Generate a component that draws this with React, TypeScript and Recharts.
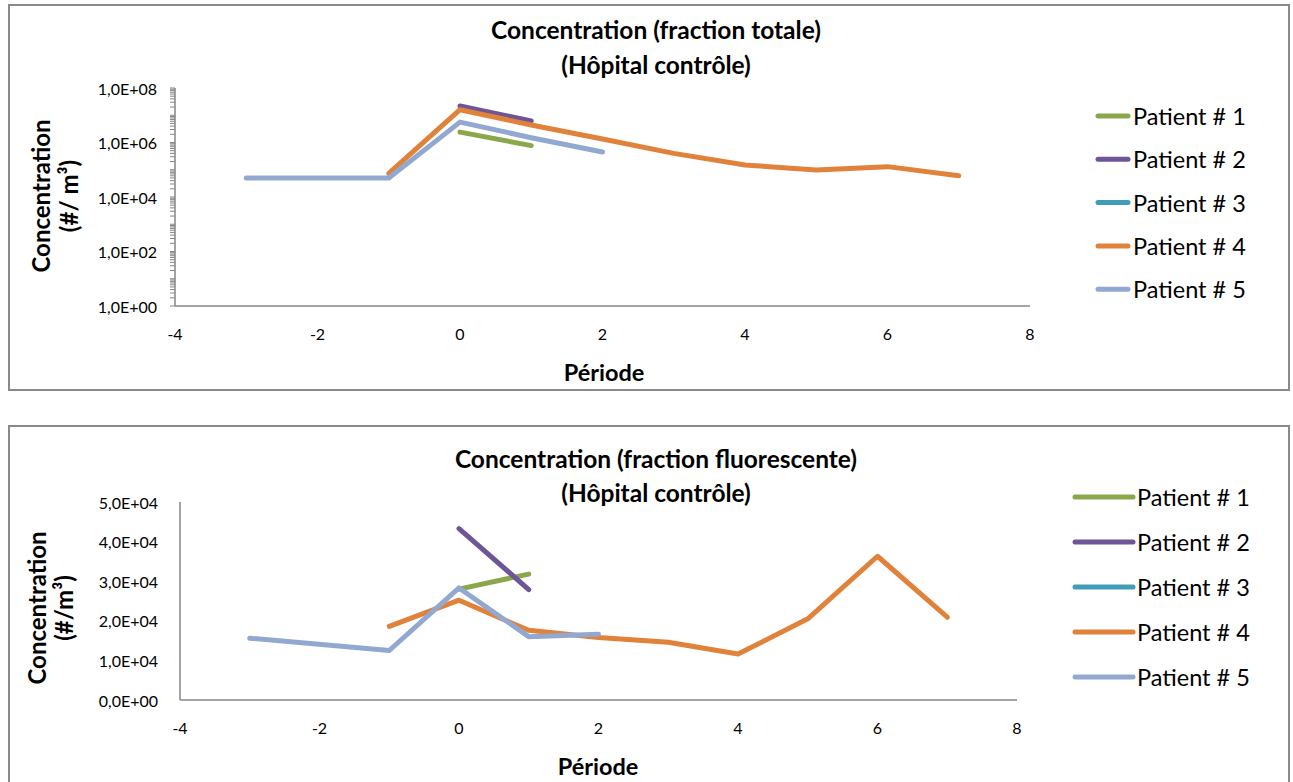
import React from 'react';
import { LineChart, Line, XAxis, YAxis, Legend } from 'recharts';

const FONT = 'Lato, "Open Sans", sans-serif';
const AXIS_GREY = '#868686';

const patientNames = ['Patient # 1', 'Patient # 2', 'Patient # 3', 'Patient # 4', 'Patient # 5'];
const patientColors = ['#8AA84B', '#6E5598', '#3F9DB6', '#E0823A', '#91A9D0'];

const xTicks = [-4, -2, 0, 2, 4, 6, 8];
const xTickLabels = ['-4', '-2', '0', '2', '4', '6', '8'];

// Top chart: total fraction (log scale)
const totalYTicks = [1, 1e2, 1e4, 1e6, 1e8];
const totalYTickLabels = ['1,0E+00', '1,0E+02', '1,0E+04', '1,0E+06', '1,0E+08'];
const logDecades = [1, 1e1, 1e2, 1e3, 1e4, 1e5, 1e6, 1e7];
const logMultipliers = [1, 2, 3, 4, 5, 6, 7, 8, 9];

const totalP1Periods = [0, 1];
const totalP1Values = [2.4e6, 7.7e5];
const totalP2Periods = [0, 1];
const totalP2Values = [2.2e7, 6.2e6];
const totalP3Periods: number[] = [];
const totalP3Values: number[] = [];
const totalP4Periods = [-1, 0, 1, 2, 3, 4, 5, 6, 7];
const totalP4Values = [7.4e4, 1.6e7, 4.4e6, 1.35e6, 4.0e5, 1.5e5, 9.8e4, 1.3e5, 6.0e4];
const totalP5Periods = [-3, -1, 0, 1, 2];
const totalP5Values = [5.0e4, 5.0e4, 5.6e6, 1.5e6, 4.5e5];

// Bottom chart: fluorescent fraction (linear)
const fluoYTicks = [0, 10000, 20000, 30000, 40000, 50000];
const fluoYTickLabels = ['0,0E+00', '1,0E+04', '2,0E+04', '3,0E+04', '4,0E+04', '5,0E+04'];

const fluoP1Periods = [0, 1];
const fluoP1Values = [28000, 31800];
const fluoP2Periods = [0, 1];
const fluoP2Values = [43300, 27900];
const fluoP3Periods: number[] = [];
const fluoP3Values: number[] = [];
const fluoP4Periods = [-1, 0, 1, 2, 3, 4, 5, 6, 7];
const fluoP4Values = [18600, 25200, 17600, 15800, 14600, 11600, 20500, 36300, 20900];
const fluoP5Periods = [-3, -1, 0, 1, 2];
const fluoP5Values = [15600, 12500, 28300, 16000, 16600];

const toPoints = (periods: number[], values: number[]) =>
  periods.map((x, i) => ({ x, y: values[i] }));

const totalSeries = [
  toPoints(totalP1Periods, totalP1Values),
  toPoints(totalP2Periods, totalP2Values),
  toPoints(totalP3Periods, totalP3Values),
  toPoints(totalP4Periods, totalP4Values),
  toPoints(totalP5Periods, totalP5Values),
];
const fluoSeries = [
  toPoints(fluoP1Periods, fluoP1Values),
  toPoints(fluoP2Periods, fluoP2Values),
  toPoints(fluoP3Periods, fluoP3Values),
  toPoints(fluoP4Periods, fluoP4Values),
  toPoints(fluoP5Periods, fluoP5Values),
];

const totalAllTicks: number[] = [];
logDecades.forEach((d) => logMultipliers.forEach((m) => totalAllTicks.push(m * d)));
totalAllTicks.push(1e8);

const labelFor = (ticks: number[], labels: string[], v: number) => {
  const i = ticks.findIndex((t) => Math.abs(t - v) <= Math.abs(t) * 1e-9);
  return i >= 0 ? labels[i] : null;
};

const makeYTick = (ticks: number[], labels: string[]) => (props: any) => {
  const { x, y, payload } = props;
  const lab = labelFor(ticks, labels, payload.value);
  if (!lab) return <g />;
  return (
    <text x={x} y={y} textAnchor="end" dominantBaseline="central" fontFamily={FONT} fontSize={16} fill="#000">
      {lab}
    </text>
  );
};

const makeXTick = (dy: number) => (props: any) => {
  const { x, y, payload } = props;
  const lab = labelFor(xTicks, xTickLabels, payload.value);
  return (
    <text x={x} y={y + dy} textAnchor="middle" dominantBaseline="central" fontFamily={FONT} fontSize={16} fill="#000">
      {lab}
    </text>
  );
};

const makeLegend = (x0: number, x1: number, tx: number, y0: number, step: number) => () => (
  <svg width={220} height={260} style={{ overflow: 'visible' }}>
    {patientNames.map((n, i) => (
      <g key={n}>
        <line x1={x0} x2={x1} y1={y0 + i * step} y2={y0 + i * step} stroke={patientColors[i]} strokeWidth={5} strokeLinecap="round" />
        <text x={tx} y={y0 + i * step} dominantBaseline="central" fontFamily={FONT} fontSize={23.5} fill="#000">
          {n}
        </text>
      </g>
    ))}
  </svg>
);

const boxStyle = (top: number, height: number): React.CSSProperties => ({
  position: 'absolute',
  left: 8,
  top,
  width: 1282,
  height,
  border: `2px solid #8a8a8a`,
  boxSizing: 'border-box',
  background: '#fff',
});

const titleStyle = (centerY: number): React.CSSProperties => ({
  position: 'absolute',
  left: 656 - 300,
  width: 600,
  top: centerY - 15,
  height: 30,
  lineHeight: '30px',
  textAlign: 'center',
  fontFamily: FONT,
  fontWeight: 700,
  fontSize: 24.5,
  color: '#000',
});

const YTitle = (cx1: number, cx2: number, cy: number, l2: string) => () => (
  <g>
    <text x={cx1} y={cy} transform={`rotate(-90 ${cx1} ${cy})`} textAnchor="middle" dominantBaseline="central" fontFamily={FONT} fontWeight={700} fontSize={24} fill="#000">
      Concentration
    </text>
    <text x={cx2} y={cy} transform={`rotate(-90 ${cx2} ${cy})`} textAnchor="middle" dominantBaseline="central" fontFamily={FONT} fontWeight={700} fontSize={24} fill="#000">
      {l2}
    </text>
  </g>
);

const XTitle = (cx: number, cy: number) => () => (
  <text x={cx} y={cy} textAnchor="middle" dominantBaseline="central" fontFamily={FONT} fontWeight={700} fontSize={23.5} fill="#000">
    Période
  </text>
);

export default function App() {
  return (
    <div style={{ position: 'absolute', left: 0, top: 0, width: 1293, height: 782, overflow: 'hidden', background: '#fff' }}>
      {/* Top chart */}
      <div style={boxStyle(4, 387)} />
      <div style={{ position: 'absolute', left: 0, top: 0 }}>
        <LineChart width={1293} height={390} margin={{ top: 88, right: 263, bottom: 54, left: 115 }}>
          <XAxis
            type="number"
            dataKey="x"
            domain={[-4, 8]}
            ticks={xTicks}
            interval={0}
            height={30}
            tickSize={0}
            tickMargin={0}
            tickLine={false}
            axisLine={{ stroke: AXIS_GREY, strokeWidth: 1.5 }}
            tick={makeXTick(27)}
            allowDataOverflow
            label={{ content: XTitle(604, 372) } as any}
          />
          <YAxis
            type="number"
            scale="log"
            domain={[1, 1e8]}
            ticks={totalAllTicks}
            interval={0}
            width={60}
            tickSize={5}
            tickMargin={13}
            tickLine={{ stroke: AXIS_GREY }}
            axisLine={{ stroke: AXIS_GREY, strokeWidth: 1.5 }}
            tick={makeYTick(totalYTicks, totalYTickLabels)}
            allowDataOverflow
            label={{ content: YTitle(40, 68, 196, '(#/ m³)') } as any}
          />
          {totalSeries.map((d, i) => (
            <Line
              key={patientNames[i]}
              data={d}
              dataKey="y"
              name={patientNames[i]}
              type="linear"
              stroke={patientColors[i]}
              strokeWidth={5}
              strokeLinecap="round"
              strokeLinejoin="round"
              dot={false}
              activeDot={false}
              isAnimationActive={false}
            />
          ))}
          <Legend
            layout="vertical"
            align="center"
            verticalAlign="middle"
            wrapperStyle={{ left: 1090, top: 95, width: 200, height: 215 }}
            content={makeLegend(8, 38, 43, 21, 43.3)}
          />
        </LineChart>
      </div>
      <div style={titleStyle(30)}>Concentration (fraction totale)</div>
      <div style={titleStyle(65)}>(Hôpital contrôle)</div>

      {/* Bottom chart */}
      <div style={boxStyle(425, 400)} />
      <div style={{ position: 'absolute', left: 0, top: 420 }}>
        <LineChart width={1293} height={362} margin={{ top: 82, right: 276, bottom: 52, left: 120 }}>
          <XAxis
            type="number"
            dataKey="x"
            domain={[-4, 8]}
            ticks={xTicks}
            interval={0}
            height={30}
            tickSize={0}
            tickMargin={0}
            tickLine={false}
            axisLine={{ stroke: AXIS_GREY, strokeWidth: 1.5 }}
            tick={makeXTick(27)}
            allowDataOverflow
            label={{ content: XTitle(598, 346) } as any}
          />
          <YAxis
            type="number"
            domain={[0, 50000]}
            ticks={fluoYTicks}
            interval={0}
            width={60}
            tickSize={0}
            tickMargin={22}
            tickLine={false}
            axisLine={{ stroke: AXIS_GREY, strokeWidth: 1.5 }}
            tick={makeYTick(fluoYTicks, fluoYTickLabels)}
            allowDataOverflow
            label={{ content: YTitle(36, 63, 188, '(#/m³)') } as any}
          />
          {fluoSeries.map((d, i) => (
            <Line
              key={patientNames[i]}
              data={d}
              dataKey="y"
              name={patientNames[i]}
              type="linear"
              stroke={patientColors[i]}
              strokeWidth={5}
              strokeLinecap="round"
              strokeLinejoin="round"
              dot={false}
              activeDot={false}
              isAnimationActive={false}
            />
          ))}
          <Legend
            layout="vertical"
            align="center"
            verticalAlign="middle"
            wrapperStyle={{ left: 1068, top: 55, width: 210, height: 225 }}
            content={makeLegend(7, 65, 69, 22, 45)}
          />
        </LineChart>
      </div>
      <div style={titleStyle(459)}>Concentration (fraction fluorescente)</div>
      <div style={titleStyle(493)}>(Hôpital contrôle)</div>
    </div>
  );
}
